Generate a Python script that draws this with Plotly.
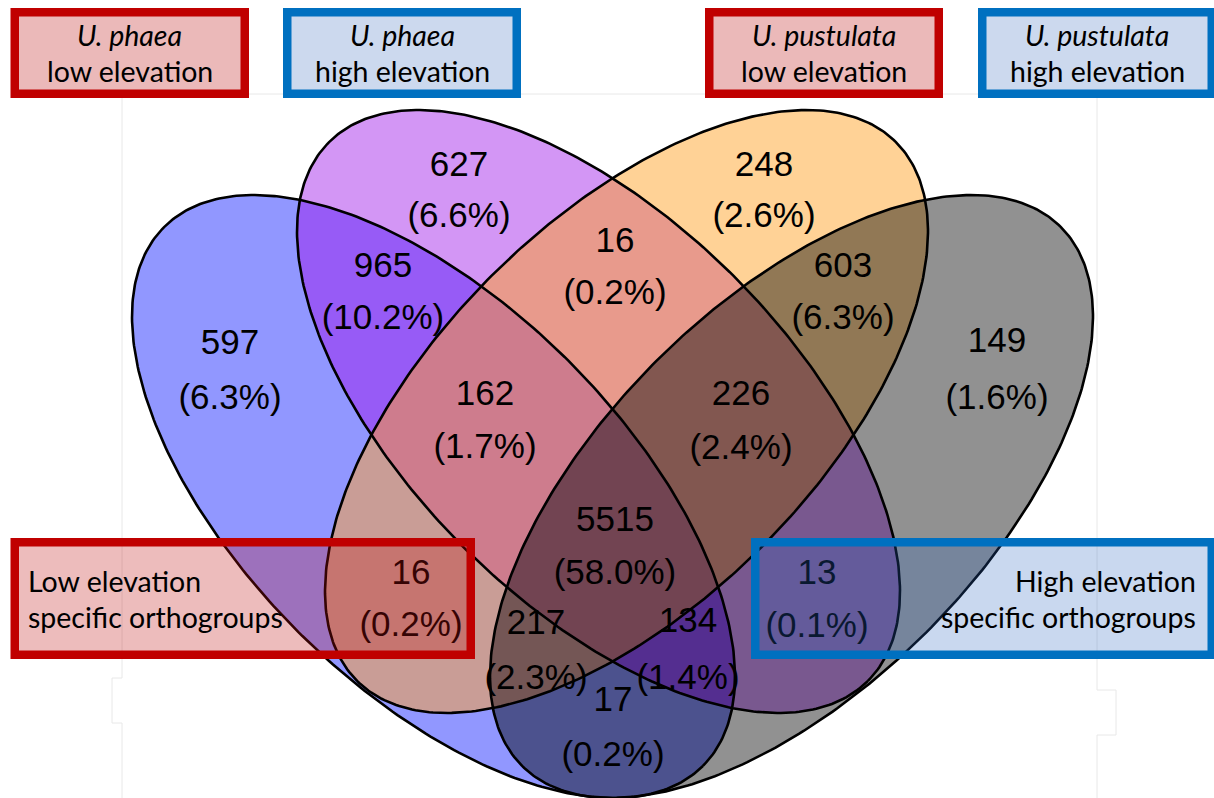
import numpy as np
import plotly.graph_objects as go

# ---------------- data ----------------
set_keys = ["A", "B", "C", "D"]
set_species = ["U. phaea", "U. phaea", "U. pustulata", "U. pustulata"]
set_elevations = ["low elevation", "high elevation", "low elevation", "high elevation"]

region_keys = ["A", "B", "C", "D", "AB", "AC", "AD", "BC", "BD", "CD",
               "ABC", "ABD", "ACD", "BCD", "ABCD"]
region_counts = [597, 627, 248, 149, 965, 16, 17, 16, 13, 603,
                 162, 134, 217, 226, 5515]
region_percents = [6.3, 6.6, 2.6, 1.6, 10.2, 0.2, 0.2, 0.2, 0.1, 6.3,
                   1.7, 1.4, 2.3, 2.4, 58.0]

summary_line1 = ["Low elevation", "High elevation"]
summary_line2 = ["specific orthogroups", "specific orthogroups"]

# ---------------- layout / style ----------------
W, H = 1214, 798
ellipses = {  # cx, cy, a, b, angle(deg, image coords)
    "A": (433.5, 496.5, 381, 191.4, 45),
    "B": (598.5, 411.5, 381, 191.4, 45),
    "C": (626.5, 411.5, 381, 191.4, 135),
    "D": (791.5, 496.5, 381, 191.4, 135),
}
region_colors = {
    "A": "#9197FF", "B": "#D396F5", "C": "#FFD296", "D": "#919191",
    "AB": "#975BF6", "AC": "#C99D96", "AD": "#4C528E", "BC": "#E89A8C",
    "BD": "#79588F", "CD": "#917855", "ABC": "#CE7C8D", "ABD": "#542E90",
    "ACD": "#745655", "BCD": "#825750", "ABCD": "#724452",
}
label_pos = {  # x, y of count, y of percent
    "A": (230, 345, 400), "B": (459, 167, 218), "C": (764, 167, 218),
    "D": (997, 343, 400), "AB": (383, 268, 320), "AC": (411, 575, 627),
    "AD": (613, 702, 757), "BC": (615, 243, 295), "BD": (817, 575, 628),
    "CD": (843, 268, 320), "ABC": (485, 396, 449), "ABD": (688, 623, 680),
    "ACD": (536, 625, 680), "BCD": (741, 396, 450), "ABCD": (615, 522, 575),
}
header_boxes = [(10.5, 8, 249, 98), (283, 8, 521, 98), (705, 8, 943, 98), (978, 8, 1216, 98)]
summary_boxes = [(10.5, 538, 475, 659), (751, 538, 1216, 659)]
RED, BLUE = "#C00000", "#0070C0"
header_fill = ["#EBB9B9", "#CCD9EE", "#EBB9B9", "#CCD9EE"]
header_line = [RED, BLUE, RED, BLUE]
summary_fill = ["rgba(190,15,15,0.28)", "rgba(40,100,190,0.25)"]
summary_line = [RED, BLUE]
BW = 8.5
NUM_FONT = dict(family="Liberation Sans, Arial", size=35, color="black")
LAB_FONT = dict(family="Lato, Open Sans", size=28.5, color="black")


def ellipse_pts(cx, cy, a, b, ang, n=400):
    t = np.linspace(0, 2 * np.pi, n, endpoint=False)
    c, s = np.cos(np.radians(ang)), np.sin(np.radians(ang))
    x = cx + a * np.cos(t) * c - b * np.sin(t) * s
    y = cy + a * np.cos(t) * s + b * np.sin(t) * c
    return list(zip(x.tolist(), y.tolist()))


def signed_area(p):
    return 0.5 * sum(p[i][0] * p[(i + 1) % len(p)][1] - p[(i + 1) % len(p)][0] * p[i][1]
                     for i in range(len(p)))


def clip(subject, clipper):
    sign = 1 if signed_area(clipper) > 0 else -1
    out = subject
    n = len(clipper)
    for i in range(n):
        if not out:
            break
        ax, ay = clipper[i]
        bx, by = clipper[(i + 1) % n]

        def inside(p):
            return sign * ((bx - ax) * (p[1] - ay) - (by - ay) * (p[0] - ax)) >= 0

        def inter(p, q):
            dx1, dy1 = q[0] - p[0], q[1] - p[1]
            dx2, dy2 = bx - ax, by - ay
            den = dx1 * dy2 - dy1 * dx2
            if den == 0:
                return p
            t = ((ax - p[0]) * dy2 - (ay - p[1]) * dx2) / den
            return (p[0] + t * dx1, p[1] + t * dy1)

        inp, out = out, []
        s = inp[-1]
        for e in inp:
            if inside(e):
                if not inside(s):
                    out.append(inter(s, e))
                out.append(e)
            elif inside(s):
                out.append(inter(s, e))
            s = e
    return out


polys = {k: ellipse_pts(*ellipses[k]) for k in set_keys}

fig = go.Figure()

# faint background guide lines (from the original slide)
faint = dict(color="#E8E8E8", width=1)
for xs, ys in [([122, 1097], [94, 94]),
               ([122, 122, 112, 112, 122, 122], [94, 678, 678, 723, 723, 798]),
               ([1097, 1097, 1116, 1116, 1097, 1097], [94, 690, 690, 735, 735, 798])]:
    fig.add_trace(go.Scatter(x=xs, y=ys, mode="lines", line=faint, hoverinfo="skip", showlegend=False))

# regions, painter's order by number of sets
order = sorted(range(len(region_keys)), key=lambda i: len(region_keys[i]))
for i in order:
    key = region_keys[i]
    poly = polys[key[0]]
    for k in key[1:]:
        poly = clip(poly, polys[k])
    if not poly:
        continue
    xs = [p[0] for p in poly] + [poly[0][0]]
    ys = [p[1] for p in poly] + [poly[0][1]]
    fig.add_trace(go.Scatter(x=xs, y=ys, mode="lines", fill="toself",
                             fillcolor=region_colors[key], line=dict(width=0, color=region_colors[key]),
                             hoverinfo="skip", showlegend=False))

# outlines
for k in set_keys:
    p = polys[k]
    fig.add_trace(go.Scatter(x=[q[0] for q in p] + [p[0][0]], y=[q[1] for q in p] + [p[0][1]],
                             mode="lines", line=dict(color="black", width=2.6),
                             hoverinfo="skip", showlegend=False))

# counts & percents
fig.add_trace(go.Scatter(x=[label_pos[k][0] for k in region_keys],
                         y=[label_pos[k][1] for k in region_keys],
                         text=[str(c) for c in region_counts], mode="text",
                         textfont=NUM_FONT, hoverinfo="skip", showlegend=False))
fig.add_trace(go.Scatter(x=[label_pos[k][0] for k in region_keys],
                         y=[label_pos[k][2] for k in region_keys],
                         text=["(%.1f%%)" % p for p in region_percents], mode="text",
                         textfont=NUM_FONT, hoverinfo="skip", showlegend=False))

shapes = []
annotations = []
for i, (x0, y0, x1, y1) in enumerate(header_boxes):
    h = BW / 2
    shapes.append(dict(type="rect", xref="x", yref="y", x0=x0 + h, x1=x1 - h, y0=y0 + h, y1=y1 - h,
                       fillcolor=header_fill[i], line=dict(color=header_line[i], width=BW), layer="above"))
    cx = (x0 + x1) / 2
    annotations.append(dict(x=cx, y=35, xref="x", yref="y", text="<i>%s</i>" % set_species[i],
                            showarrow=False, font=LAB_FONT, xanchor="center", yanchor="middle"))
    annotations.append(dict(x=cx, y=70.5, xref="x", yref="y", text=set_elevations[i],
                            showarrow=False, font=LAB_FONT, xanchor="center", yanchor="middle"))

for i, (x0, y0, x1, y1) in enumerate(summary_boxes):
    h = BW / 2
    shapes.append(dict(type="rect", xref="x", yref="y", x0=x0 + h, x1=x1 - h, y0=y0 + h, y1=y1 - h,
                       fillcolor=summary_fill[i], line=dict(color=summary_line[i], width=BW), layer="above"))
    if i == 0:
        xa, anc = 26, "left"
    else:
        xa, anc = 1198, "right"
    annotations.append(dict(x=xa, y=581, xref="x", yref="y", text=summary_line1[i], showarrow=False,
                            font=LAB_FONT, xanchor=anc, yanchor="middle"))
    annotations.append(dict(x=xa, y=617, xref="x", yref="y", text=summary_line2[i], showarrow=False,
                            font=LAB_FONT, xanchor=anc, yanchor="middle"))

fig.update_layout(
    width=W, height=H, autosize=False,
    margin=dict(l=0, r=0, t=0, b=0, pad=0),
    paper_bgcolor="white", plot_bgcolor="white",
    xaxis=dict(range=[0, W], visible=False, fixedrange=True),
    yaxis=dict(range=[H, 0], visible=False, fixedrange=True),
    shapes=shapes, annotations=annotations, showlegend=False,
)

fig.write_html("out.html", config={"displayModeBar": False},
               post_script="document.body.style.margin='0';document.body.style.overflow='hidden';")
